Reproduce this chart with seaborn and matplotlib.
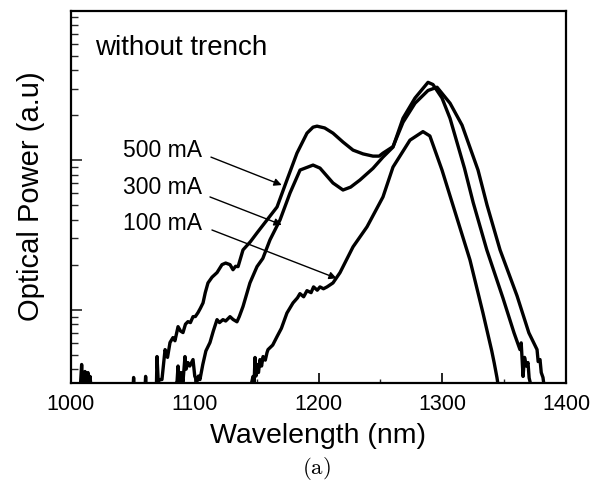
import numpy as np
import pandas as pd
import matplotlib
matplotlib.use("Agg")
import matplotlib.pyplot as plt
import seaborn as sns
from matplotlib.ticker import LogLocator, NullFormatter, MultipleLocator

# ---------------- data ----------------
wl_500 = [1000, 1007.5, 1008.6, 1009.5, 1010.5, 1011.3, 1012.2, 1013.7, 1014.5, 1015.4, 1016.2,
          1050.1, 1050.6, 1051.1, 1059.8, 1060.3, 1060.8,
          1069.0, 1069.5, 1070.5, 1072, 1073.5, 1076.0, 1078, 1080.0, 1082.4, 1084, 1086.5,
          1088.5, 1090.5, 1092.5, 1094.5, 1096.5, 1098.6, 1100.5, 1102.6, 1104.5, 1106.7,
          1108.5, 1110.7, 1114, 1118.0, 1122.0, 1125, 1128.5, 1130.9, 1133, 1135.0, 1139.0,
          1145, 1150.3, 1158.4, 1166.5, 1174.5, 1182.6, 1190.7, 1195.6, 1198.8, 1205, 1211.7,
          1219.8, 1227.9, 1236, 1244.0, 1249, 1252.1, 1260.2, 1268.3, 1278.0, 1288.5,
          1295.8, 1306.3, 1316.0, 1328.9, 1336.2, 1346.7, 1360.4, 1370.0, 1376.6, 1377.5,
          1379.0, 1380, 1381.4, 1382.5, 1400]
pw_500 = [3.0, 3.0, 4.30, 3.0, 3.0, 3.86, 3.0, 3.80, 3.0, 3.58, 3.0,
          3.0, 3.52, 3.0, 3.0, 3.58, 3.0,
          3.0, 4.86, 3.31, 3.41, 3.41, 5.41, 4.8, 6.03, 6.51, 6.2, 7.70,
          7.2, 7.03, 8.0, 8.32, 8.2, 8.98, 9.0, 9.55, 10.2, 11.1,
          13.0, 15.1, 16.5, 17.7, 20.0, 20.5, 20.0, 18.5, 19.5, 19.4, 25.1,
          28.5, 32.6, 39.8, 48.6, 73.6, 111.3, 151.4, 166.0, 168.6, 164, 151.4,
          132, 116.6, 110, 106.3, 106.3, 111.3, 123, 179, 240, 292,
          306.9, 240, 171.1, 85.8, 50, 25.1, 12.4, 7.0, 5.41, 4.5,
          4.64, 3.8, 3.52, 3.0, 3.0]

wl_300 = [1083, 1085.7, 1086.5, 1087.5, 1089, 1090.5, 1092.1, 1093, 1094.5, 1096, 1098.6,
          1100, 1101.8, 1103, 1104.2, 1106.5, 1109, 1112.3, 1115, 1118.0, 1120, 1122.8,
          1125, 1128.5, 1131, 1134.1, 1136, 1139.0, 1144.6, 1150.3, 1155, 1160.8, 1168.9,
          1177.0, 1185.1, 1195.6, 1201.2, 1211.7, 1219.8, 1226, 1233.5, 1244, 1252.1,
          1260.2, 1268.3, 1278, 1288.5, 1292.5, 1299.8, 1306.3, 1318, 1325, 1336,
          1349, 1358, 1362.8, 1363.8, 1365.3, 1366.5, 1368, 1369.3, 1370.2, 1370.9, 1372]
pw_300 = [3.0, 3.31, 4.2, 3.2, 3.8, 3.3, 4.86, 4.0, 4.43, 4.2, 4.64,
          3.6, 3.31, 3.6, 3.41, 4.3, 5.3, 6.03, 7.2, 8.58, 8.2, 8.58,
          8.4, 8.98, 8.6, 8.3, 9.0, 10.5, 15.1, 19.4, 22, 29.3, 39.8,
          60.3, 85.8, 92.6, 88.4, 70.3, 63.1, 66, 73.6, 88, 104.7,
          122.1, 190.5, 260, 331, 320, 260, 190, 88, 52, 25.1,
          12.0, 7.0, 5.41, 6.0, 3.58, 4.8, 4.2, 4.43, 3.5, 3.31, 3.0]

wl_100 = [1145, 1147.1, 1148, 1148.7, 1149.5, 1150.5, 1151.5, 1152.7, 1154, 1155.2, 1157,
          1158.4, 1159.2, 1163, 1166.5, 1170, 1174.5, 1179.4, 1183, 1185, 1188, 1190.7,
          1194, 1196, 1199, 1201.2, 1204, 1206.9, 1211.7, 1217.4, 1227.9, 1239.2, 1252.1,
          1260.2, 1273.9, 1284.4, 1290, 1299.8, 1322.4, 1332.9, 1340, 1342, 1344.2, 1345.5]
pw_100 = [3.0, 3.58, 3.3, 4.79, 3.6, 4.3, 3.8, 4.64, 4.2, 4.86, 4.6,
          5.17, 5.41, 5.8, 6.61, 7.5, 9.5, 11.1, 12.0, 12.8, 12.2, 13.4,
          13.0, 14.2, 13.5, 14.2, 13.8, 14.2, 15.1, 17.7, 26.3, 35.8, 56.7,
          89.8, 135.9, 155, 145, 85.8, 21.5, 9.5, 5.3, 4.4, 3.52, 3.0]

labels = ["500 mA", "300 mA", "100 mA"]
label_pos = [(1042, 104.7), (1042, 59.4), (1042, 34.1)]
arrow_tail = [(1113.1, 104.7), (1112.3, 56.7), (1113.9, 34.1)]
arrow_head = [(1170.3, 68.1), (1170.3, 36.9), (1214.7, 16.2)]

x_ticks = [1000, 1100, 1200, 1300, 1400]

# ---------------- figure ----------------
sns.set_theme(style="ticks")
plt.rcParams['font.family'] = ['Liberation Sans', 'DejaVu Sans']
plt.rcParams['mathtext.fontset'] = 'cm'

frames = []
for name, wl, pw in [("500 mA", wl_500, pw_500), ("300 mA", wl_300, pw_300), ("100 mA", wl_100, pw_100)]:
    frames.append(pd.DataFrame({"wl": wl, "pw": pw, "cur": name}))
df = pd.concat(frames, ignore_index=True)

fig = plt.figure(figsize=(6.01, 4.91), dpi=100)
ax = fig.add_axes([71/601, 1-382.5/491, (566-71)/601, (382.5-10.5)/491])

sns.lineplot(data=df, x="wl", y="pw", hue="cur", units="cur", estimator=None, sort=False,
             palette=["black", "black", "black"], linewidth=2.4, legend=False, ax=ax)

ax.set_yscale("log")
ax.set_xlim(1000, 1400)
ax.set_ylim(3.26, 1000)
ax.set_xticks(x_ticks)
ax.xaxis.set_minor_locator(MultipleLocator(50))
ax.yaxis.set_major_locator(LogLocator(base=10, numticks=10))
ax.yaxis.set_minor_locator(LogLocator(base=10, subs=np.arange(2, 10), numticks=20))
ax.yaxis.set_major_formatter(NullFormatter())
ax.yaxis.set_minor_formatter(NullFormatter())

ax.tick_params(axis='x', which='major', direction='in', length=7, width=1.2, labelsize=15.5,
               colors='black', pad=8, top=False)
ax.tick_params(axis='x', which='minor', direction='in', length=3, width=1.0, top=False)
ax.tick_params(axis='y', which='major', direction='in', length=8, width=1.2, right=False)
ax.tick_params(axis='y', which='minor', direction='in', length=5, width=1.0, right=False)

for s in ax.spines.values():
    s.set_linewidth(1.6)
    s.set_color('black')

ax.set_xlabel("Wavelength (nm)", fontsize=20.5, color='black', labelpad=6)
ax.set_ylabel("Optical Power (a.u)", fontsize=21, color='black', labelpad=15)

ax.text(1019.4, 501, "without trench", fontsize=20, color='black', va='baseline', ha='left')

for lab, pos, tail, head in zip(labels, label_pos, arrow_tail, arrow_head):
    ax.text(pos[0], pos[1], lab, fontsize=16.5, color='black', va='baseline', ha='left')
    ax.annotate("", xy=head, xytext=tail,
                arrowprops=dict(arrowstyle='-|>', color='black', lw=1.0,
                                mutation_scale=11, shrinkA=0, shrinkB=0))

fig.text(316/601, 1-468/491, r"$\mathrm{(a)}$", fontsize=16.5, ha='center', va='center', color='black')

fig.savefig("out.png", dpi=100)
